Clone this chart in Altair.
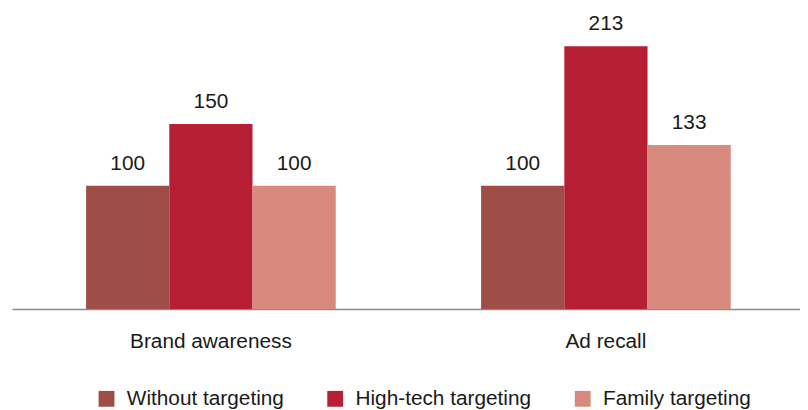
import altair as alt
import pandas as pd

categories = ["Brand awareness", "Ad recall"]
series = ["Without targeting", "High-tech targeting", "Family targeting"]
brand_awareness = [100, 150, 100]
ad_recall = [100, 213, 133]
colors = ["#9E4D47", "#B71F34", "#D98A7E"]

rows = []
for cat, vals in zip(categories, [brand_awareness, ad_recall]):
    for s, v in zip(series, vals):
        rows.append({"category": cat, "series": s, "value": v})
df = pd.DataFrame(rows)

FONT = "Liberation Sans, Arial, Helvetica, sans-serif"

x = alt.X(
    "category:N",
    sort=categories,
    scale=alt.Scale(paddingInner=0.368, paddingOuter=0.1815, align=0.517),
    axis=alt.Axis(
        title=None, labelAngle=0, ticks=False, labelFontSize=21, labelPadding=22,
        domainColor="#8c8c8c", domainWidth=1.5, grid=False, labelColor="#1a1a1a",
        labelFont=FONT,
    ),
)
xoff = alt.XOffset("series:N", sort=series, scale=alt.Scale(paddingInner=0, paddingOuter=0))
y = alt.Y("value:Q", scale=alt.Scale(domain=[0, 240]), axis=None)

bars = alt.Chart(df).mark_bar().encode(
    x=x,
    xOffset=xoff,
    y=y,
    color=alt.Color(
        "series:N",
        sort=series,
        scale=alt.Scale(domain=series, range=colors),
        legend=alt.Legend(
            title=None, orient="none", legendX=85, legendY=379, direction="horizontal",
            symbolType="square", symbolSize=256, symbolStrokeWidth=0, labelFontSize=21,
            labelOffset=10, columnPadding=41, labelFont=FONT, labelColor="#1a1a1a",
            padding=0, labelLimit=300,
        ),
    ),
)

labels = alt.Chart(df).mark_text(
    dy=-16, baseline="alphabetic", fontSize=21, font=FONT, color="#1a1a1a"
).encode(x=x, xOffset=xoff, y=y, text=alt.Text("value:Q"))

chart = (
    alt.layer(bars, labels)
    .properties(
        width=796, height=299,
        background="white",
        autosize=alt.AutoSizeParams(type="none"),
        padding={"left": 4, "top": 3, "right": 0, "bottom": 100},
    )
    .configure_view(strokeWidth=0, stroke=None)
)

chart.save("out.html", embed_options={"renderer": "svg", "actions": False})
